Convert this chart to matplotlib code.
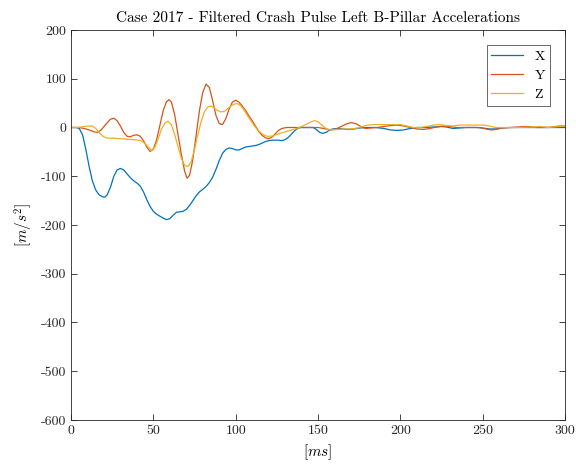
import numpy as np
import matplotlib
matplotlib.use("Agg")
import matplotlib.pyplot as plt

plt.rcParams['font.family'] = 'serif'
plt.rcParams['font.serif'] = ['cmr10', 'DejaVu Serif']
plt.rcParams['mathtext.fontset'] = 'cm'
plt.rcParams['axes.unicode_minus'] = False
plt.rcParams['axes.formatter.use_mathtext'] = False

# values (time in ms, acceleration in m/s^2)
t_x = [0, 3, 5, 7, 9, 11, 13, 15, 17, 19, 20.5, 22, 24, 26, 28, 30, 32, 34, 36, 38, 40, 42, 44, 46, 48,
       50, 52, 54, 56, 58, 60, 62, 64, 66, 68, 70, 72, 74, 76, 78, 80, 82, 84, 86, 88, 90, 92, 94, 96, 98,
       100, 102, 104, 106, 108, 110, 112, 114, 116, 118, 120, 122, 124, 126, 128, 130, 132, 134, 136, 138,
       140, 144, 147, 149, 151, 153, 155, 157, 159, 162, 165, 168, 172, 175, 180, 185, 190, 194, 198, 202,
       206, 210, 215, 220, 225, 228, 232, 236, 240, 246, 250, 254, 258, 262, 266, 300]
acc_x = [0, 0, -2, -15, -45, -80, -110, -128, -138, -142, -143, -138, -122, -100, -87, -84, -87, -95, -103,
         -109, -114, -120, -132, -148, -162, -172, -178, -182, -186, -189, -187, -180, -174, -173, -172, -168,
         -160, -150, -140, -132, -127, -121, -113, -102, -86, -68, -53, -45, -42, -43, -46, -46, -43, -40, -39,
         -38, -37, -35, -32, -29, -27, -26, -26, -26, -27, -25, -20, -13, -6, -1, 0, 0, 0, -4, -10, -12, -10,
         -5, -3, -2, -3, -4, -3, -1, 0, 0, -2, -5, -6, -5, -2, 0, 0, 1, 2, 1, -2, -1, 0, 0, -1, -3, -3, -1, 0, 0]

t_y = [0, 5, 8, 11, 14, 16, 18, 20, 22, 24, 26, 28, 30, 32, 34, 36, 38, 40, 42, 44, 46, 48, 50, 52, 54, 56,
       58, 59.5, 61, 63, 65, 67, 69, 70.5, 72, 74, 76, 78, 80, 82, 84, 86, 88, 90, 92, 94, 96, 98, 100, 102,
       104, 106, 108, 110, 112, 114, 116, 118, 120, 122, 124, 126, 128, 131, 135, 140, 145, 150, 155, 158, 161,
       164, 167, 170, 173, 176, 179, 182, 186, 190, 194, 198, 202, 206, 210, 214, 218, 222, 226, 230, 234, 240,
       248, 252, 255, 258, 262, 268, 274, 278, 282, 290, 296, 300]
acc_y = [0, 0, -2, -5, -9, -10, -6, 2, 10, 17, 19, 14, 3, -10, -18, -19, -16, -15, -18, -27, -40, -49, -45,
         -25, 5, 35, 53, 57, 52, 25, -15, -55, -90, -104, -98, -65, -15, 35, 72, 89, 82, 55, 25, 8, 6, 18, 38,
         52, 56, 52, 44, 35, 24, 14, 3, -8, -16, -21, -23, -20, -13, -6, -2, 0, 0, 0, 0, 0, -3, -5, -3, 2, 7,
         10, 8, 2, -2, -1, 0, 2, 4, 5, 3, 0, -3, -4, -2, 1, 3, 2, 0, 0, 0, -3, -5, -4, -1, 0, 2, 2, 0, 0, 3, 3]

t_z = [0, 4, 8, 11, 13, 15, 17, 19, 21, 23, 26, 30, 34, 38, 41, 43, 45, 47, 49, 51, 53, 55, 57, 59, 61, 63,
       65, 67, 69, 71, 73, 75, 77, 79, 81, 83, 85, 87, 89, 91, 93, 95, 97, 99, 101, 103, 105, 107, 109, 111,
       113, 115, 117, 119, 121, 123, 125, 128, 131, 134, 137, 140, 143, 146, 148, 150, 152, 154, 156, 158, 162,
       166, 170, 174, 177, 180, 184, 190, 196, 200, 204, 208, 212, 216, 220, 224, 228, 232, 236, 240, 246, 250,
       254, 258, 270, 280, 285, 290, 296, 300]
acc_z = [0, 0, 2, 3, 3, -2, -10, -17, -21, -22, -22, -23, -24, -25, -26, -28, -33, -41, -47, -40, -22, -3, 9,
         13, 5, -15, -40, -63, -78, -80, -70, -45, -15, 12, 32, 42, 44, 40, 35, 32, 33, 38, 44, 48, 49, 45, 36,
         25, 15, 5, -4, -10, -15, -18, -18, -17, -14, -11, -8, -5, -2, 2, 7, 12, 14, 12, 6, 0, -4, -5, -4, -3,
         -3, -1, 2, 5, 6, 6, 6, 6, 3, 0, 0, 2, 5, 6, 4, 3, 5, 5, 5, 5, 3, 0, 0, 1, 2, 0, 2, 3]

labels = ['X', 'Y', 'Z']
colors = ['#0072BD', '#D95319', '#EDB120']

fig = plt.figure(figsize=(5.76, 4.68), dpi=100)
ax = fig.add_axes([0.1233, 0.1026, 0.8577, 0.8333])

for t, a, lab, c in zip([t_x, t_y, t_z], [acc_x, acc_y, acc_z], labels, colors):
    ax.plot(t, a, color=c, linewidth=0.9, label=lab)

ax.set_xlim(0, 300)
ax.set_ylim(-600, 200)
ax.set_xticks(np.arange(0, 301, 50))
ax.set_yticks(np.arange(-600, 201, 100))
ax.tick_params(direction='in', top=True, right=True, length=4, width=0.6,
               labelsize=10, colors='#262626')
for s in ax.spines.values():
    s.set_color('#262626')
    s.set_linewidth(0.6)

ax.set_title('Case 2017 - Filtered Crash Pulse Left B-Pillar Accelerations', fontsize=11, pad=6)
ax.set_xlabel(r'$[ms]$', fontsize=11)
ax.set_ylabel(r'$[m/s^2]$', fontsize=11)

leg = ax.legend(loc='upper right', fancybox=False, edgecolor='#262626', fontsize=10,
                handlelength=2.3, borderaxespad=1.1, labelspacing=0.45, borderpad=0.35)
leg.get_frame().set_linewidth(0.6)

fig.savefig('out.png', dpi=100)
